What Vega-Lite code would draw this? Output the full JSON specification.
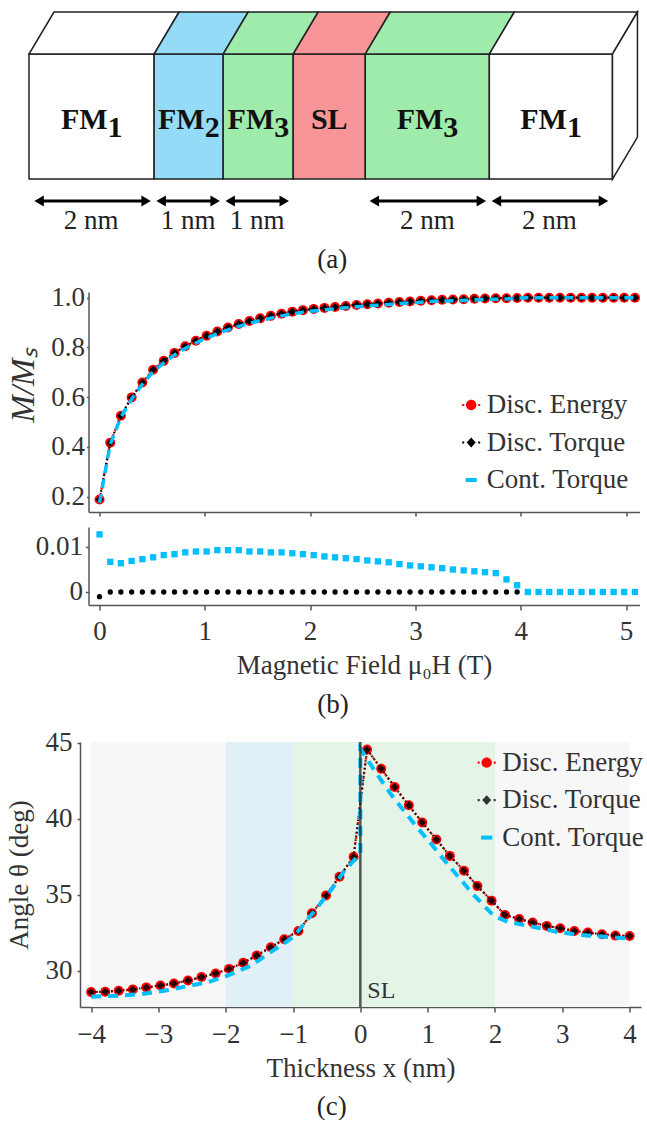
{
  "$schema": "https://vega.github.io/schema/vega-lite/v6.json",
  "background": "white",
  "padding": {"left": 5.5, "top": 9, "right": 0, "bottom": 0},
  "columns": 1,
  "spacing": 10,
  "config": {
    "view": {"stroke": null},
    "font": "Liberation Serif, Times New Roman, serif",
    "text": {"font": "Liberation Serif, Times New Roman, serif"},
    "axis": {
      "labelFont": "Liberation Serif, Times New Roman, serif", "titleFont": "Liberation Serif, Times New Roman, serif",
      "labelFontSize": 27, "titleFontSize": 27, "titleFontWeight": "normal",
      "labelColor": "#333", "titleColor": "#333",
      "domainColor": "#555", "tickColor": "#555", "domainWidth": 1.5, "tickWidth": 1.5,
      "grid": false, "labelOverlap": false, "labelFlush": false, "labelBound": false
    },
    "legend": {"labelFont": "Liberation Serif, Times New Roman, serif"},
    "title": {"font": "Liberation Serif, Times New Roman, serif", "fontSize": 27, "fontWeight": "normal", "color": "#222"}
  },
  "datasets": {
    "bdata": [
      {"x":0,"e":0.188,"c":0.175,"dc":0.0128,"dt":-0.00104},
      {"x":0.102,"e":0.417,"c":0.410,"dc":0.0067,"dt":0},
      {"x":0.203,"e":0.525,"c":0.519,"dc":0.0064,"dt":0},
      {"x":0.305,"e":0.599,"c":0.592,"dc":0.0069,"dt":0},
      {"x":0.407,"e":0.659,"c":0.652,"dc":0.0073,"dt":0},
      {"x":0.509,"e":0.710,"c":0.702,"dc":0.0077,"dt":0},
      {"x":0.610,"e":0.746,"c":0.738,"dc":0.0082,"dt":0},
      {"x":0.712,"e":0.778,"c":0.770,"dc":0.0084,"dt":0},
      {"x":0.814,"e":0.805,"c":0.796,"dc":0.0088,"dt":0},
      {"x":0.915,"e":0.827,"c":0.818,"dc":0.0090,"dt":0},
      {"x":1.017,"e":0.847,"c":0.838,"dc":0.0090,"dt":0},
      {"x":1.119,"e":0.864,"c":0.855,"dc":0.0093,"dt":0},
      {"x":1.220,"e":0.880,"c":0.871,"dc":0.0093,"dt":0},
      {"x":1.322,"e":0.894,"c":0.885,"dc":0.0093,"dt":0},
      {"x":1.424,"e":0.906,"c":0.897,"dc":0.0090,"dt":0},
      {"x":1.526,"e":0.917,"c":0.908,"dc":0.0090,"dt":0},
      {"x":1.627,"e":0.927,"c":0.918,"dc":0.0088,"dt":0},
      {"x":1.729,"e":0.936,"c":0.927,"dc":0.0088,"dt":0},
      {"x":1.831,"e":0.944,"c":0.935,"dc":0.0086,"dt":0},
      {"x":1.932,"e":0.950,"c":0.942,"dc":0.0084,"dt":0},
      {"x":2.034,"e":0.955,"c":0.947,"dc":0.0082,"dt":0},
      {"x":2.136,"e":0.959,"c":0.951,"dc":0.0079,"dt":0},
      {"x":2.237,"e":0.963,"c":0.955,"dc":0.0077,"dt":0},
      {"x":2.339,"e":0.967,"c":0.960,"dc":0.0075,"dt":0},
      {"x":2.441,"e":0.971,"c":0.964,"dc":0.0073,"dt":0},
      {"x":2.543,"e":0.974,"c":0.967,"dc":0.0070,"dt":0},
      {"x":2.644,"e":0.977,"c":0.970,"dc":0.0068,"dt":0},
      {"x":2.746,"e":0.980,"c":0.973,"dc":0.0066,"dt":0},
      {"x":2.848,"e":0.983,"c":0.977,"dc":0.0062,"dt":0},
      {"x":2.949,"e":0.985,"c":0.979,"dc":0.0059,"dt":0},
      {"x":3.051,"e":0.988,"c":0.982,"dc":0.0057,"dt":0},
      {"x":3.153,"e":0.990,"c":0.985,"dc":0.0055,"dt":0},
      {"x":3.254,"e":0.992,"c":0.987,"dc":0.0053,"dt":0},
      {"x":3.356,"e":0.993,"c":0.988,"dc":0.0050,"dt":0},
      {"x":3.458,"e":0.994,"c":0.989,"dc":0.0048,"dt":0},
      {"x":3.560,"e":0.996,"c":0.991,"dc":0.0046,"dt":0},
      {"x":3.661,"e":0.997,"c":0.993,"dc":0.0044,"dt":0},
      {"x":3.763,"e":0.998,"c":0.994,"dc":0.0042,"dt":0},
      {"x":3.865,"e":0.998,"c":0.995,"dc":0.0028,"dt":0},
      {"x":3.966,"e":0.999,"c":0.998,"dc":0.0015,"dt":0},
      {"x":4.068,"e":1,"c":1,"dc":0,"dt":0},
      {"x":4.170,"e":1,"c":1,"dc":0,"dt":0},
      {"x":4.271,"e":1,"c":1,"dc":0,"dt":0},
      {"x":4.373,"e":1,"c":1,"dc":0,"dt":0},
      {"x":4.475,"e":1,"c":1,"dc":0,"dt":0},
      {"x":4.577,"e":1,"c":1,"dc":0,"dt":0},
      {"x":4.678,"e":1,"c":1,"dc":0,"dt":0},
      {"x":4.780,"e":1,"c":1,"dc":0,"dt":0},
      {"x":4.882,"e":1,"c":1,"dc":0,"dt":0},
      {"x":4.983,"e":1,"c":1,"dc":0,"dt":0},
      {"x":5.085,"e":1,"c":1,"dc":0,"dt":0}
    ],
    "cdisc": [
      {"x":-4.00,"v":28.58},{"x":-3.79,"v":28.60},{"x":-3.59,"v":28.67},{"x":-3.38,"v":28.76},
      {"x":-3.18,"v":28.89},{"x":-2.97,"v":29.02},{"x":-2.77,"v":29.15},{"x":-2.56,"v":29.35},
      {"x":-2.36,"v":29.57},{"x":-2.15,"v":29.81},{"x":-1.95,"v":30.11},{"x":-1.74,"v":30.51},
      {"x":-1.54,"v":30.99},{"x":-1.33,"v":31.54},{"x":-1.13,"v":32.06},{"x":-0.92,"v":32.61},
      {"x":-0.72,"v":33.77},{"x":-0.51,"v":34.95},{"x":-0.31,"v":36.18},{"x":-0.10,"v":37.49},
      {"x":0.10,"v":44.56},{"x":0.31,"v":43.29},{"x":0.51,"v":42.09},{"x":0.72,"v":40.88},
      {"x":0.92,"v":39.75},{"x":1.13,"v":38.63},{"x":1.33,"v":37.55},{"x":1.54,"v":36.57},
      {"x":1.74,"v":35.56},{"x":1.95,"v":34.60},{"x":2.15,"v":33.66},{"x":2.36,"v":33.40},
      {"x":2.56,"v":33.16},{"x":2.77,"v":32.94},{"x":2.97,"v":32.79},{"x":3.18,"v":32.61},
      {"x":3.38,"v":32.50},{"x":3.59,"v":32.39},{"x":3.79,"v":32.30},{"x":4.00,"v":32.28}
    ],
    "ccont": [
      {"o":1,"x":-4.0,"v":28.28},{"o":2,"x":-3.58,"v":28.34},{"o":3,"x":-3.25,"v":28.45},
      {"o":4,"x":-2.91,"v":28.67},{"o":5,"x":-2.59,"v":28.95},{"o":6,"x":-2.25,"v":29.26},
      {"o":7,"x":-2.0,"v":29.62},{"o":8,"x":-1.63,"v":30.31},{"o":9,"x":-1.37,"v":31.1},
      {"o":10,"x":-1.08,"v":31.95},{"o":11,"x":-1.0,"v":32.2},{"o":12,"x":-0.83,"v":33.11},
      {"o":13,"x":-0.63,"v":34.2},{"o":14,"x":-0.4,"v":35.52},{"o":15,"x":-0.23,"v":36.61},
      {"o":16,"x":0,"v":37.7},{"o":17,"x":0,"v":44.6},{"o":18,"x":0.26,"v":42.85},
      {"o":19,"x":0.44,"v":41.7},{"o":20,"x":0.66,"v":40.45},{"o":21,"x":0.84,"v":39.45},
      {"o":22,"x":1.06,"v":38.3},{"o":23,"x":1.26,"v":37.2},{"o":24,"x":1.48,"v":36.05},
      {"o":25,"x":1.68,"v":35.0},{"o":26,"x":1.93,"v":33.85},{"o":27,"x":2.0,"v":33.55},
      {"o":28,"x":2.19,"v":33.22},{"o":29,"x":2.56,"v":32.89},{"o":30,"x":2.91,"v":32.56},
      {"o":31,"x":3.25,"v":32.35},{"o":32,"x":3.6,"v":32.24},{"o":33,"x":3.93,"v":32.13},
      {"o":34,"x":4.0,"v":32.12}
    ],
    "leg": [{"s":"Disc. Energy"},{"s":"Disc. Torque"},{"s":"Cont. Torque"}]
  },
  "resolve": {
    "scale": {"x": "independent", "y": "independent", "color": "independent", "shape": "independent"},
    "legend": {"color": "independent", "shape": "independent"}
  },
  "concat": [
    {
      "width": 552.5, "height": 225,
      "title": {"text": "(a)", "orient": "bottom", "offset": 10, "dx": -32.5},
      "layer": [
        {
          "data": {"values": [
            {"id":"a","x0":0,"x1":2.016,"fill":"#ffffff"},
            {"id":"b","x0":2.016,"x1":3.129,"fill":"#93dbf6"},
            {"id":"c","x0":3.129,"x1":4.258,"fill":"#9eebab"},
            {"id":"d","x0":4.258,"x1":5.419,"fill":"#f79598"},
            {"id":"e","x0":5.419,"x1":7.419,"fill":"#9eebab"},
            {"id":"f","x0":7.419,"x1":9.403,"fill":"#ffffff"}
          ]},
          "mark": {"type": "rect", "stroke": "#222", "strokeWidth": 1.5},
          "encoding": {
            "x": {"field": "x0", "type": "quantitative", "scale": {"domain": [-0.363, 9.863], "range": [-82, 552.5], "nice": false, "zero": false}, "axis": null},
            "x2": {"field": "x1"},
            "y": {"datum": 0, "type": "quantitative", "scale": {"domain": [-0.935, 2.694], "nice": false, "zero": false}, "axis": null},
            "y2": {"datum": 2.016},
            "fill": {"field": "fill", "type": "nominal", "scale": null}
          }
        },
        {
          "data": {"values": [
            {"id":"a","y":2.016,"xa":0,"xb":2.016,"fill":"#ffffff"},
            {"id":"a","y":2.694,"xa":0.403,"xb":2.419,"fill":"#ffffff"},
            {"id":"b","y":2.016,"xa":2.016,"xb":3.129,"fill":"#93dbf6"},
            {"id":"b","y":2.694,"xa":2.419,"xb":3.532,"fill":"#93dbf6"},
            {"id":"c","y":2.016,"xa":3.129,"xb":4.258,"fill":"#9eebab"},
            {"id":"c","y":2.694,"xa":3.532,"xb":4.661,"fill":"#9eebab"},
            {"id":"d","y":2.016,"xa":4.258,"xb":5.419,"fill":"#f79598"},
            {"id":"d","y":2.694,"xa":4.661,"xb":5.822,"fill":"#f79598"},
            {"id":"e","y":2.016,"xa":5.419,"xb":7.419,"fill":"#9eebab"},
            {"id":"e","y":2.694,"xa":5.822,"xb":7.822,"fill":"#9eebab"},
            {"id":"f","y":2.016,"xa":7.419,"xb":9.403,"fill":"#ffffff"},
            {"id":"f","y":2.694,"xa":7.822,"xb":9.806,"fill":"#ffffff"}
          ]},
          "mark": {"type": "area", "orient": "horizontal", "stroke": "#222", "strokeWidth": 1.5},
          "encoding": {
            "y": {"field": "y", "type": "quantitative"},
            "x": {"field": "xa", "type": "quantitative", "stack": null},
            "x2": {"field": "xb"},
            "detail": {"field": "id"},
            "fill": {"field": "fill", "type": "nominal", "scale": null}
          }
        },
        {
          "data": {"values": [{"x":9.403,"ya":0,"yb":2.016},{"x":9.806,"ya":0.677,"yb":2.694}]},
          "mark": {"type": "area", "orient": "vertical", "fill": "#ffffff", "stroke": "#222", "strokeWidth": 1.5},
          "encoding": {
            "x": {"field": "x", "type": "quantitative"},
            "y": {"field": "ya", "type": "quantitative", "stack": null},
            "y2": {"field": "yb"}
          }
        },
        {
          "data": {"values": [{"l":0.162,"r":1.887},{"l":2.129,"r":3.0},{"l":3.242,"r":4.113},{"l":5.565,"r":7.29},{"l":7.533,"r":9.258}]},
          "layer": [
            {"mark": {"type": "rule", "strokeWidth": 3, "color": "#000"},
             "encoding": {"x": {"field": "l", "type": "quantitative"}, "x2": {"field": "r"}, "y": {"datum": -0.355}}},
            {"mark": {"type": "point", "shape": "triangle-left", "filled": true, "color": "#000", "size": 120, "opacity": 1},
             "encoding": {"x": {"field": "l", "type": "quantitative"}, "y": {"datum": -0.355}}},
            {"mark": {"type": "point", "shape": "triangle-right", "filled": true, "color": "#000", "size": 120, "opacity": 1},
             "encoding": {"x": {"field": "r", "type": "quantitative"}, "y": {"datum": -0.355}}}
          ]
        },
        {
          "data": {"values": [{"x":1.0,"t":"2 nm"},{"x":2.565,"t":"1 nm"},{"x":3.677,"t":"1 nm"},{"x":6.419,"t":"2 nm"},{"x":8.387,"t":"2 nm"}]},
          "mark": {"type": "text", "fontSize": 27, "baseline": "middle", "align": "center", "color": "#222", "font": "Liberation Serif, Times New Roman, serif"},
          "encoding": {"x": {"field": "x", "type": "quantitative"}, "y": {"datum": -0.677}, "text": {"field": "t"}}
        },
        {
          "data": {"values": [
            {"ax":1.266,"m":"FM","s":"1"},{"ax":2.831,"m":"FM","s":"2"},{"ax":3.952,"m":"FM","s":"3"},
            {"ax":5.135,"m":"SL","s":""},{"ax":6.677,"m":"FM","s":"3"},{"ax":8.669,"m":"FM","s":"1"}
          ]},
          "layer": [
            {"mark": {"type": "text", "fontSize": 30, "fontWeight": "bold", "align": "right", "baseline": "alphabetic", "color": "#111", "font": "Liberation Serif, Times New Roman, serif"},
             "encoding": {"x": {"field": "ax", "type": "quantitative"}, "y": {"datum": 0.811}, "text": {"field": "m"}}},
            {"mark": {"type": "text", "fontSize": 30, "fontWeight": "bold", "align": "left", "baseline": "alphabetic", "dy": 8, "color": "#111", "font": "Liberation Serif, Times New Roman, serif"},
             "encoding": {"x": {"field": "ax", "type": "quantitative"}, "y": {"datum": 0.811}, "text": {"field": "s"}}}
          ]
        }
      ]
    },
    {
      "width": 551, "height": 220,
      "data": {"name": "bdata"},
      "layer": [
        {
          "mark": {"type": "line", "color": "#ff0000", "strokeWidth": 2.2, "strokeDash": [2, 3]},
          "encoding": {
            "x": {"field": "x", "type": "quantitative", "scale": {"domain": [-0.1045, 5.128], "nice": false, "zero": false},
                  "axis": {"values": [0,1,2,3,4,5], "labels": false, "title": null, "tickSize": 4}},
            "y": {"field": "e", "type": "quantitative", "scale": {"domain": [0.138, 1.023], "nice": false, "zero": false},
                  "axis": {"values": [0.2,0.4,0.6,0.8,1.0], "format": ".1f", "title": "M/Mₛ", "titleFontStyle": "italic", "titleFontSize": 33,
                           "tickSize": 2, "labelPadding": 2, "minExtent": 37, "maxExtent": 37, "titlePadding": 11.5, "titleY": 93}}
          }
        },
        {
          "mark": {"type": "point", "shape": "circle", "filled": true, "color": "#ff0000", "size": 100, "opacity": 1},
          "encoding": {"x": {"field": "x", "type": "quantitative"}, "y": {"field": "e", "type": "quantitative"}}
        },
        {
          "mark": {"type": "line", "color": "#000000", "strokeWidth": 2.2, "strokeDash": [1.5, 2.5]},
          "encoding": {"x": {"field": "x", "type": "quantitative"}, "y": {"field": "e", "type": "quantitative"}}
        },
        {
          "mark": {"type": "point", "shape": "diamond", "filled": true, "color": "#000000", "size": 64, "opacity": 1},
          "encoding": {"x": {"field": "x", "type": "quantitative"}, "y": {"field": "e", "type": "quantitative"}}
        },
        {
          "mark": {"type": "line", "color": "#00bfff", "strokeWidth": 3.5, "strokeDash": [9, 6]},
          "encoding": {"x": {"field": "x", "type": "quantitative"}, "y": {"field": "c", "type": "quantitative"}}
        },
        {
          "data": {"name": "leg"},
          "mark": {"type": "point", "filled": true, "opacity": 0},
          "encoding": {
            "x": {"datum": 2}, "y": {"datum": 0.5},
            "color": {"field": "s", "type": "nominal",
              "scale": {"domain": ["Disc. Energy", "Disc. Torque", "Cont. Torque"], "range": ["#ff0000", "#000000", "#00bfff"]},
              "legend": {"title": null, "orient": "none", "legendX": 369.2, "legendY": 99.5, "symbolSize": 324, "symbolOpacity": 1,
                         "symbolStrokeWidth": 0, "labelFontSize": 27, "labelFont": "Liberation Serif, Times New Roman, serif", "labelColor": "#333",
                         "rowPadding": 9.5, "labelOffset": 2, "padding": 0, "offset": 0, "labelLimit": 400}},
            "shape": {"field": "s", "type": "nominal",
              "scale": {"domain": ["Disc. Energy", "Disc. Torque", "Cont. Torque"],
                        "range": ["M-0.58,0A0.58,0.58 0 1,1 0.58,0A0.58,0.58 0 1,1 -0.58,0Z M-1,-0.12H-0.78V0.12H-1Z M0.78,-0.12H1V0.12H0.78Z",
                                  "M0,-0.55L0.5,0L0,0.55L-0.5,0Z M-1,-0.12H-0.78V0.12H-1Z M0.78,-0.12H1V0.12H0.78Z",
                                  "M-0.62,-0.22H0.62V0.22H-0.62Z"]},
              "legend": {"title": null, "orient": "none", "legendX": 369.2, "legendY": 99.5, "symbolSize": 324, "symbolOpacity": 1,
                         "symbolStrokeWidth": 0, "labelFontSize": 27, "labelFont": "Liberation Serif, Times New Roman, serif", "labelColor": "#333",
                         "rowPadding": 9.5, "labelOffset": 2, "padding": 0, "offset": 0, "labelLimit": 400}}
          }
        }
      ]
    },
    {
      "width": 551, "height": 78,
      "data": {"name": "bdata"},
      "title": {"text": "(b)", "orient": "bottom", "offset": 14, "dx": -31},
      "layer": [
        {
          "mark": {"type": "point", "shape": "circle", "filled": true, "color": "#000000", "size": 28, "opacity": 1},
          "encoding": {
            "x": {"field": "x", "type": "quantitative", "scale": {"domain": [-0.1045, 5.128], "nice": false, "zero": false},
                  "axis": {"values": [0,1,2,3,4,5], "format": "d", "title": "Magnetic Field μ₀H (T)", "tickSize": 5, "labelPadding": 8, "titlePadding": 8}},
            "y": {"field": "dt", "type": "quantitative", "scale": {"domain": [-0.00289, 0.01444], "nice": false, "zero": false},
                  "axis": {"values": [0, 0.01], "format": "~g", "title": null, "tickSize": 3, "labelPadding": 3, "minExtent": 81.5, "maxExtent": 81.5}}
          }
        },
        {
          "mark": {"type": "point", "shape": "square", "filled": true, "color": "#00bfff", "size": 40, "opacity": 1},
          "encoding": {"x": {"field": "x", "type": "quantitative"}, "y": {"field": "dc", "type": "quantitative"}}
        }
      ]
    },
    {
      "width": 552.5, "height": 265,
      "title": {"text": "(c)", "orient": "bottom", "offset": 13, "dx": -33},
      "layer": [
        {
          "data": {"values": [
            {"x0":-4,"x1":-2,"fill":"#f7f7f7"},{"x0":-2,"x1":-1,"fill":"#e1eff7"},
            {"x0":-1,"x1":2,"fill":"#e4f4e6"},{"x0":2,"x1":4,"fill":"#f7f7f7"}
          ]},
          "mark": {"type": "rect"},
          "encoding": {
            "x": {"field": "x0", "type": "quantitative", "scale": {"domain": [-4.165, 4.17], "range": [-8.5, 552.5], "nice": false, "zero": false},
                  "axis": {"values": [-4,-3,-2,-1,0,1,2,3,4], "format": "d", "title": "Thickness x (nm)", "tickSize": 5, "labelPadding": 9, "titlePadding": 8}},
            "x2": {"field": "x1"},
            "y": {"datum": 27.6, "type": "quantitative", "scale": {"domain": [27.6, 45.05], "nice": false, "zero": false},
                  "axis": {"values": [30,35,40,45], "title": "Angle θ (deg)", "offset": 8.5, "tickSize": 3, "labelPadding": 5, "minExtent": 35, "maxExtent": 35, "titlePadding": 11.5}},
            "y2": {"datum": 45.05},
            "fill": {"field": "fill", "type": "nominal", "scale": null}
          }
        },
        {
          "data": {"name": "cdisc"},
          "layer": [
            {"mark": {"type": "line", "color": "#ff0000", "strokeWidth": 2.2, "strokeDash": [2, 3]},
             "encoding": {"x": {"field": "x", "type": "quantitative"}, "y": {"field": "v", "type": "quantitative"}}},
            {"mark": {"type": "point", "shape": "circle", "filled": true, "color": "#ff0000", "size": 100, "opacity": 1},
             "encoding": {"x": {"field": "x", "type": "quantitative"}, "y": {"field": "v", "type": "quantitative"}}},
            {"mark": {"type": "line", "color": "#000000", "strokeWidth": 2.2, "strokeDash": [1.5, 2.5], "opacity": 0.85},
             "encoding": {"x": {"field": "x", "type": "quantitative"}, "y": {"field": "v", "type": "quantitative"}}},
            {"mark": {"type": "point", "shape": "diamond", "filled": true, "color": "#000000", "size": 64, "opacity": 0.8},
             "encoding": {"x": {"field": "x", "type": "quantitative"}, "y": {"field": "v", "type": "quantitative"}}}
          ]
        },
        {
          "data": {"name": "ccont"},
          "mark": {"type": "line", "color": "#00bfff", "strokeWidth": 4, "strokeDash": [10, 7]},
          "encoding": {"x": {"field": "x", "type": "quantitative"}, "y": {"field": "v", "type": "quantitative"}, "order": {"field": "o"}}
        },
        {
          "data": {"values": [{"x": 0}]},
          "layer": [
            {"mark": {"type": "rule", "color": "#222", "opacity": 0.75, "strokeWidth": 2.5},
             "encoding": {"x": {"field": "x", "type": "quantitative"}}},
            {"mark": {"type": "text", "text": "SL", "align": "left", "baseline": "alphabetic", "dx": 7, "fontSize": 24, "color": "#333", "font": "Liberation Serif, Times New Roman, serif"},
             "encoding": {"x": {"field": "x", "type": "quantitative"}, "y": {"datum": 28.21}}}
          ]
        },
        {
          "data": {"name": "leg"},
          "mark": {"type": "point", "filled": true, "opacity": 0},
          "encoding": {
            "x": {"datum": 0}, "y": {"datum": 30},
            "color": {"field": "s", "type": "nominal",
              "scale": {"domain": ["Disc. Energy", "Disc. Torque", "Cont. Torque"], "range": ["#ff0000", "#333333", "#00bfff"]},
              "legend": {"title": null, "orient": "none", "legendX": 384.7, "legendY": 7.1, "symbolSize": 324, "symbolOpacity": 1,
                         "symbolStrokeWidth": 0, "labelFontSize": 27, "labelFont": "Liberation Serif, Times New Roman, serif", "labelColor": "#333",
                         "rowPadding": 9.5, "labelOffset": 2, "padding": 0, "offset": 0, "labelLimit": 400}},
            "shape": {"field": "s", "type": "nominal",
              "scale": {"domain": ["Disc. Energy", "Disc. Torque", "Cont. Torque"],
                        "range": ["M-0.58,0A0.58,0.58 0 1,1 0.58,0A0.58,0.58 0 1,1 -0.58,0Z M-1,-0.12H-0.78V0.12H-1Z M0.78,-0.12H1V0.12H0.78Z",
                                  "M0,-0.55L0.5,0L0,0.55L-0.5,0Z M-1,-0.12H-0.78V0.12H-1Z M0.78,-0.12H1V0.12H0.78Z",
                                  "M-0.62,-0.22H0.62V0.22H-0.62Z"]},
              "legend": {"title": null, "orient": "none", "legendX": 384.7, "legendY": 7.1, "symbolSize": 324, "symbolOpacity": 1,
                         "symbolStrokeWidth": 0, "labelFontSize": 27, "labelFont": "Liberation Serif, Times New Roman, serif", "labelColor": "#333",
                         "rowPadding": 9.5, "labelOffset": 2, "padding": 0, "offset": 0, "labelLimit": 400}}
          }
        }
      ]
    }
  ]
}
